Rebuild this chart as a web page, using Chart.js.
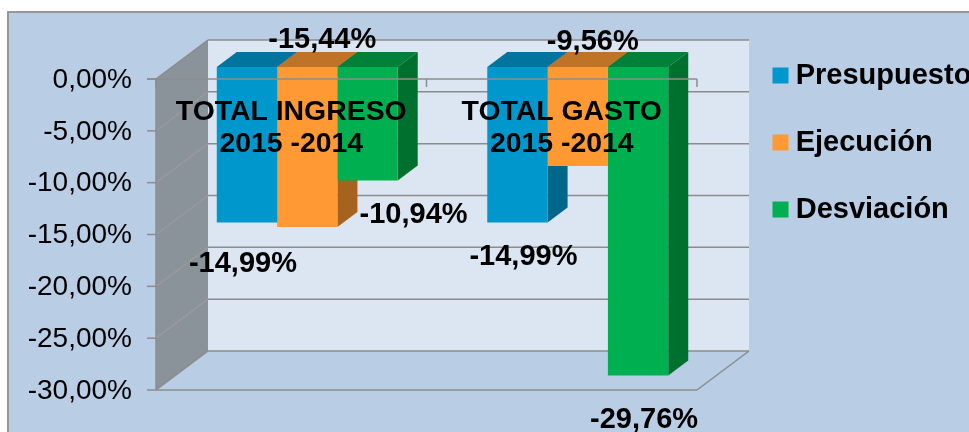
<!DOCTYPE html>
<html>
<head>
<meta charset="utf-8">
<title>Total ingreso y gasto</title>
<script src="https://cdn.jsdelivr.net/npm/chart.js@4"></script>
<style>
  html, body { margin: 0; padding: 0; background: #fff; overflow: hidden; }
  canvas { display: block; }
</style>
</head>
<body>
<canvas id="myChart" width="969" height="432"></canvas>
<script>
const categories = [['TOTAL INGRESO', '2015 -2014'], ['TOTAL GASTO', '2015 -2014']];
const presupuesto = [-14.99, -14.99];
const ejecucion = [-15.44, -9.56];
const desviacion = [-10.94, -29.76];

const FONT = '"Liberation Sans", Arial, sans-serif';
const frontColors = ['#0098cc', '#ff9933', '#00b050'];
const topColors = ['#00749c', '#bf7326', '#008038'];
const sideColors = ['#00668a', '#a5631f', '#00702f'];

// where each value label sits, relative to the end of its bar
const labelShift = [
  [[-4, 42], [6, 35]],
  [[15, -187], [15, -124]],
  [[46, 35], [6, 44]]
];

// the chart area is the plane of the bar fronts, the rest of the box is offset from it
const FRONT = { x: -16, y: 12 };
const BACK = { x: 36, y: -27 };
const BAR_DEPTH = { x: 20, y: -15 };
const LINE = '#8c8c8c';

function poly(ctx, pts, fill, stroke) {
  ctx.beginPath();
  pts.forEach((p, i) => i ? ctx.lineTo(p[0], p[1]) : ctx.moveTo(p[0], p[1]));
  ctx.closePath();
  if (fill) { ctx.fillStyle = fill; ctx.fill(); }
  if (stroke) { ctx.strokeStyle = stroke; ctx.stroke(); }
}

function seg(ctx, x1, y1, x2, y2) {
  ctx.beginPath();
  ctx.moveTo(x1, y1);
  ctx.lineTo(x2, y2);
  ctx.stroke();
}

const box3d = {
  id: 'box3d',
  afterLayout(chart) {
    // legend goes to the right of the box, it does not take room from the plot
    const lg = chart.legend;
    const pad = lg.options.labels.padding;
    lg.left = 779.8 - pad;
    lg.right = 969;
    lg.top = 61 - pad;
    lg.bottom = 432;
  },
  beforeDraw(chart) {
    const ctx = chart.ctx;
    const a = chart.chartArea;
    const y = chart.scales.y;
    ctx.save();
    ctx.fillStyle = '#ffffff';
    ctx.fillRect(0, 0, 969, 432);
    ctx.fillStyle = '#b9cde5';
    ctx.fillRect(8, 12, 961, 420);
    ctx.strokeStyle = '#969696';
    ctx.lineWidth = 2;
    ctx.beginPath();
    ctx.moveTo(8, 432);
    ctx.lineTo(8, 12);
    ctx.lineTo(969, 12);
    ctx.stroke();

    const fl = a.left + FRONT.x, fr = a.right + FRONT.x;
    const bl = a.left + BACK.x, br = a.right + BACK.x;
    const ft = a.top + FRONT.y, fb = a.bottom + FRONT.y;
    const bt = a.top + BACK.y, bb = a.bottom + BACK.y;

    // back wall, side wall
    poly(ctx, [[bl, bt], [br, bt], [br, bb], [bl, bb]], '#dce6f2');
    poly(ctx, [[fl, ft], [bl, bt], [bl, bb], [fl, fb]], '#8a929a');

    // grid on the walls, taken from the value scale
    ctx.lineWidth = 1.5;
    y.ticks.forEach(t => {
      const py = y.getPixelForValue(t.value);
      ctx.strokeStyle = LINE;
      seg(ctx, bl, py + BACK.y, br, py + BACK.y);
      ctx.strokeStyle = t.value === y.min || t.value === y.max ? LINE : '#9a9a9a';
      seg(ctx, fl, py + FRONT.y, bl, py + BACK.y);
      ctx.strokeStyle = LINE;
      seg(ctx, fl - 9, py + FRONT.y, fl, py + FRONT.y);
    });
    // floor
    ctx.strokeStyle = LINE;
    seg(ctx, fl, fb, fr, fb);
    seg(ctx, fr, fb, br, bb);
    seg(ctx, fl, ft, fl, fb);
    ctx.restore();
  },
  beforeDatasetsDraw(chart) {
    const ctx = chart.ctx;
    const dx = BAR_DEPTH.x, dy = BAR_DEPTH.y;
    ctx.save();
    chart.data.datasets.forEach((ds, i) => {
      chart.getDatasetMeta(i).data.forEach(bar => {
        const l = bar.x - bar.width / 2, r = bar.x + bar.width / 2;
        const t = Math.min(bar.y, bar.base), b = Math.max(bar.y, bar.base);
        poly(ctx, [[l, t], [l + dx, t + dy], [r + dx, t + dy], [r, t]], topColors[i]);
        poly(ctx, [[r, t], [r + dx, t + dy], [r + dx, b + dy], [r, b]], sideColors[i]);
      });
    });
    ctx.restore();
  },
  afterDatasetsDraw(chart) {
    const ctx = chart.ctx;
    const a = chart.chartArea;
    const x = chart.scales.x;
    const ft = a.top + FRONT.y;
    ctx.save();
    // front axis passes over the bars
    ctx.strokeStyle = LINE;
    ctx.lineWidth = 1.5;
    seg(ctx, a.left + FRONT.x - 9, ft, a.right + FRONT.x, ft);
    [x.left, (x.left + x.right) / 2, x.right].forEach(px => {
      seg(ctx, px + FRONT.x, ft, px + FRONT.x, ft + 8);
    });
    // value labels
    ctx.fillStyle = '#000';
    ctx.font = 'bold 29px ' + FONT;
    ctx.textAlign = 'center';
    ctx.textBaseline = 'middle';
    chart.data.datasets.forEach((ds, i) => {
      chart.getDatasetMeta(i).data.forEach((bar, j) => {
        const s = ds.data[j].toFixed(2).replace('.', ',') + '%';
        ctx.fillText(s, bar.x + labelShift[i][j][0], bar.y + labelShift[i][j][1]);
      });
    });
    ctx.restore();
  }
};

const config = {
  type: 'bar',
  data: {
    labels: categories,
    datasets: [
      { label: 'Presupuesto', data: presupuesto, backgroundColor: frontColors[0] },
      { label: 'Ejecución', data: ejecucion, backgroundColor: frontColors[1] },
      { label: 'Desviación', data: desviacion, backgroundColor: frontColors[2] }
    ]
  },
  options: {
    responsive: false,
    animation: false,
    categoryPercentage: 0.669,
    barPercentage: 1,
    borderWidth: 0,
    layout: { padding: { left: 0, top: 67, right: 256, bottom: 54 } },
    plugins: {
      title: { display: false },
      tooltip: { enabled: false },
      legend: {
        position: 'chartArea',
        align: 'start',
        labels: {
          color: '#000',
          font: { family: FONT, size: 29, weight: 'bold' },
          usePointStyle: true,
          pointStyle: 'rect',
          boxWidth: 1.4,
          boxHeight: 16,
          padding: 38
        }
      }
    },
    scales: {
      x: {
        position: 'top',
        grid: { display: false, drawTicks: false },
        border: { display: false },
        afterFit(s) { s.height = 0; },
        ticks: {
          z: 1,
          mirror: true,
          color: '#000',
          font: { family: FONT, size: 28.4, weight: 'bold', lineHeight: 1.13 },
          autoSkip: false,
          maxRotation: 0,
          labelOffset: FRONT.x,
          padding: -3
        }
      },
      y: {
        min: -30,
        max: 0,
        // tick length keeps the labels away from the plot, the marks themselves come from box3d
        grid: { display: false, drawTicks: true, tickLength: 40 },
        border: { display: false },
        afterFit(s) { s.width = 172; },
        ticks: {
          stepSize: 5,
          autoSkip: false,
          color: '#000',
          font: { family: FONT, size: 28 },
          padding: 0,
          labelOffset: FRONT.y + 1,
          callback: v => v.toFixed(2).replace('.', ',') + '%'
        }
      }
    }
  },
  plugins: [box3d]
};

var ctx = document.getElementById('myChart');
var myChart = new Chart(ctx, config);
</script>
</body>
</html>
